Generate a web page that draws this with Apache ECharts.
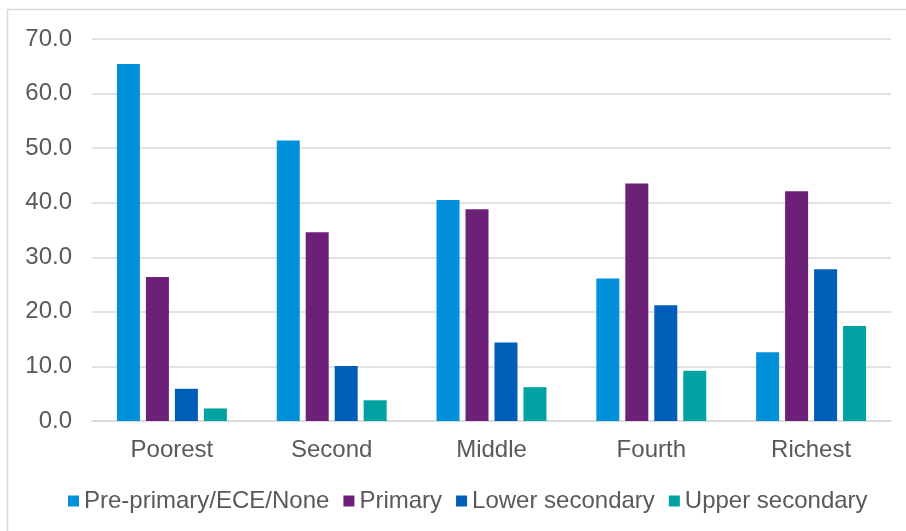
<!DOCTYPE html>
<html>
<head>
<meta charset="utf-8">
<script src="https://cdn.jsdelivr.net/npm/echarts@6/dist/echarts.min.js"></script>
<style>
  html, body { margin: 0; padding: 0; background: #fff; }
  #chart { width: 906px; height: 531px; }
</style>
</head>
<body>
<div id="chart"></div>
<script>
// Wealth quintiles on the x axis
const quintiles = ['Poorest', 'Second', 'Middle', 'Fourth', 'Richest'];

// Share (%) by highest education level, one array per level
const prePrimary     = [65.4, 51.4, 40.5, 26.1, 12.6];
const primary        = [26.4, 34.6, 38.8, 43.5, 42.1];
const lowerSecondary = [5.9, 10.1, 14.4, 21.2, 27.8];
const upperSecondary = [2.3, 3.8, 6.2, 9.2, 17.4];

const seriesNames = ['Pre-primary/ECE/None', 'Primary', 'Lower secondary', 'Upper secondary'];
const seriesData = [prePrimary, primary, lowerSecondary, upperSecondary];
const colors = ['#0091DA', '#6D2077', '#005EB8', '#00A3A1'];

const FONT = '"Liberation Sans", Arial, sans-serif';
const TEXT = '#595959';
const FS = 24;

const chart = echarts.init(document.getElementById('chart'), null, { renderer: 'canvas' });

chart.setOption({
  animation: false,
  backgroundColor: '#ffffff',
  color: colors,
  graphic: [{
    type: 'rect',
    silent: true,
    shape: { x: 7.5, y: 9.5, width: 1000, height: 1000 },
    style: { fill: 'none', stroke: '#d9d9d9', lineWidth: 1.5 }
  }],
  grid: { left: 92, right: 15, top: 39, bottom: 110 },
  legend: {
    top: 484,
    left: 63,
    itemWidth: 11,
    itemHeight: 11,
    itemGap: 14,
    icon: 'rect',
    textStyle: { fontFamily: FONT, fontSize: FS, color: TEXT },
    data: seriesNames
  },
  xAxis: {
    type: 'category',
    data: quintiles,
    axisTick: { show: false },
    axisLine: { lineStyle: { color: '#d9d9d9', width: 1.5 } },
    axisLabel: { fontFamily: FONT, fontSize: FS, color: TEXT, margin: 17 }
  },
  yAxis: {
    type: 'value',
    min: 0,
    max: 70,
    interval: 10,
    axisLine: { show: false },
    axisTick: { show: false },
    splitLine: { lineStyle: { color: '#d9d9d9', width: 1.5 } },
    axisLabel: {
      fontFamily: FONT, fontSize: FS, color: TEXT, margin: 20,
      formatter: v => v.toFixed(1)
    }
  },
  series: seriesNames.map((name, i) => ({
    name,
    type: 'bar',
    data: seriesData[i],
    barWidth: 23,
    barGap: '26%',
    itemStyle: { color: colors[i] }
  }))
});
</script>
</body>
</html>
